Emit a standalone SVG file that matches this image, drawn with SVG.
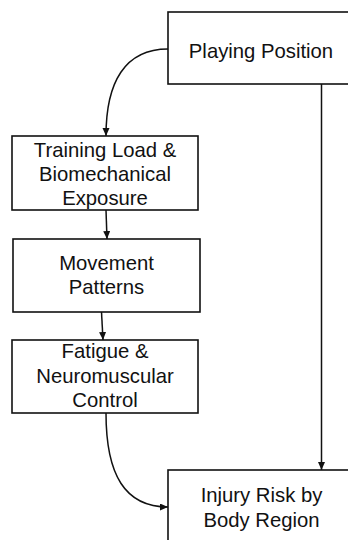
<svg xmlns="http://www.w3.org/2000/svg" width="348" height="540" viewBox="0 0 348 540">
  <style>
    .box { fill: #ffffff; stroke: #111111; stroke-width: 1.6; }
    .lbl { font-family: "Liberation Sans", Arial, sans-serif; font-size: 20.3px; fill: #111111; text-anchor: middle; }
    .edge { fill: none; stroke: #111111; stroke-width: 1.5; }
  </style>
  <defs>
    <marker id="arrow" markerUnits="userSpaceOnUse" markerWidth="9" markerHeight="8" refX="8" refY="3.5" orient="auto">
      <path d="M0,0 L8,3.5 L0,7 z" fill="#111111"/>
    </marker>
  </defs>
  <rect width="348" height="540" fill="#ffffff"/>

  <g id="connectors">
    <path class="edge" d="M168,49 C125,49 106,82 106,136" marker-end="url(#arrow)"/>
    <path class="edge" d="M106,210 L107,239" marker-end="url(#arrow)"/>
    <path class="edge" d="M101.5,312 L103,340" marker-end="url(#arrow)"/>
    <path class="edge" d="M321.5,84 L321.5,470" marker-end="url(#arrow)"/>
    <path class="edge" d="M106,413 C106,475 125,507 168,507" marker-end="url(#arrow)"/>
  </g>

  <g id="playing-position">
    <rect class="box" x="168" y="12" width="186" height="72"/>
    <text class="lbl" x="261" y="58">Playing Position</text>
  </g>

  <g id="training-load">
    <rect class="box" x="12" y="136" width="186" height="74"/>
    <text class="lbl" x="105" y="156.5">Training Load &amp;</text>
    <text class="lbl" x="105" y="180.5">Biomechanical</text>
    <text class="lbl" x="105" y="204.5">Exposure</text>
  </g>

  <g id="movement-patterns">
    <rect class="box" x="13" y="239" width="187" height="73"/>
    <text class="lbl" x="106.5" y="270">Movement</text>
    <text class="lbl" x="106.5" y="294">Patterns</text>
  </g>

  <g id="fatigue">
    <rect class="box" x="12" y="340" width="186" height="73"/>
    <text class="lbl" x="105" y="358">Fatigue &amp;</text>
    <text class="lbl" x="105" y="382.5">Neuromuscular</text>
    <text class="lbl" x="105" y="407">Control</text>
  </g>

  <g id="injury-risk">
    <rect class="box" x="168" y="470" width="186" height="80"/>
    <text class="lbl" x="261.5" y="502">Injury Risk by</text>
    <text class="lbl" x="261.5" y="527">Body Region</text>
  </g>
</svg>
